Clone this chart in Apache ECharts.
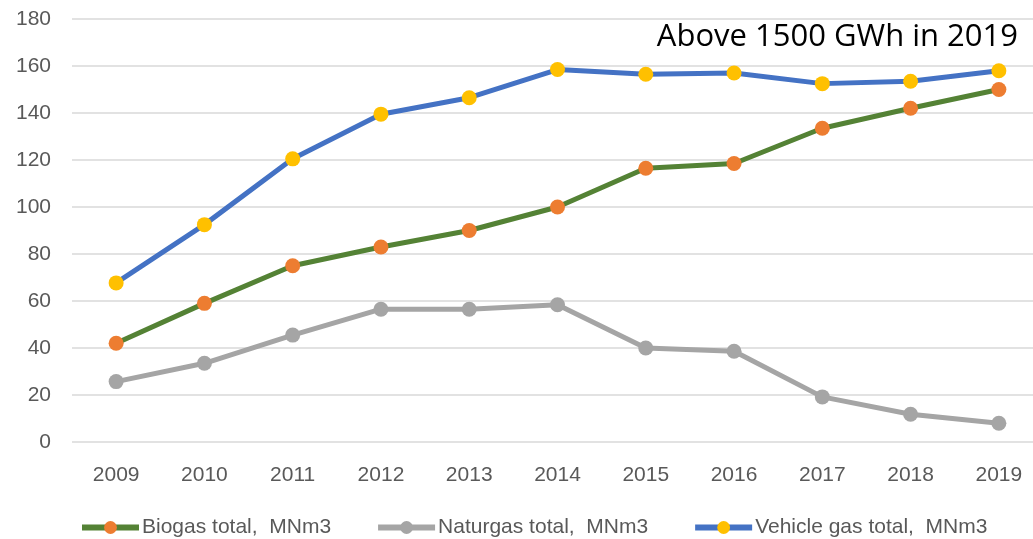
<!DOCTYPE html>
<html>
<head>
<meta charset="utf-8">
<script src="https://cdn.jsdelivr.net/npm/echarts@6/dist/echarts.min.js"></script>
<style>
  html, body { margin: 0; padding: 0; background: #fff; }
  #chart { width: 1033px; height: 539px; }
</style>
</head>
<body>
<div id="chart"></div>
<script>
// data
const years = ['2009', '2010', '2011', '2012', '2013', '2014', '2015', '2016', '2017', '2018', '2019']
const biogas = [42, 59, 75, 83, 90, 100, 116.5, 118.5, 133.5, 142, 150]
const naturgas = [25.7, 33.5, 45.5, 56.5, 56.5, 58.4, 40, 38.6, 19.2, 11.8, 8]
const vehicleGas = [67.7, 92.5, 120.5, 139.5, 146.5, 158.5, 156.5, 157, 152.5, 153.5, 158]

const font = 'Liberation Sans, Arial, sans-serif'

const myChart = echarts.init(document.getElementById('chart'))

const makeSeries = (name, data, lineColor, dotColor) => ({
  name: name,
  type: 'line',
  data: data,
  symbol: 'circle',
  symbolSize: 15,
  lineStyle: { color: lineColor, width: 5 },
  itemStyle: { color: dotColor },
  emphasis: { disabled: true },
  z: 2,
})

const option = {
  animation: false,
  title: {
    text: 'Above 1500 GWh in 2019',
    right: 10,
    top: 17,
    textStyle: { fontFamily: 'Open Sans, sans-serif', fontSize: 31, fontWeight: 'normal', color: '#000' },
  },
  // chart is cropped on the right in the reference, so the grid runs past the edge
  grid: { left: 72, right: -10, top: 19, bottom: 97, outerBoundsMode: 'none' },
  legend: {
    top: 512,
    left: 74,
    itemWidth: 57,
    itemHeight: 16,
    itemGap: 44,
    lineStyle: { width: 6 },
    textStyle: { fontFamily: font, fontSize: 21, color: '#595959', padding: [0, 0, 0, -2] },
    data: ['Biogas total,  MNm3', 'Naturgas total,  MNm3', 'Vehicle gas total,  MNm3'],
  },
  xAxis: {
    type: 'category',
    data: years,
    boundaryGap: true,
    axisLine: { show: false },
    axisTick: { show: false },
    axisLabel: { margin: 23, fontFamily: font, fontSize: 21, color: '#595959' },
  },
  yAxis: {
    type: 'value',
    min: 0,
    max: 180,
    interval: 20,
    axisLine: { show: false },
    axisTick: { show: false },
    axisLabel: { margin: 21, fontFamily: font, fontSize: 21, color: '#595959' },
    splitLine: { lineStyle: { color: '#d9d9d9', width: 1.5 } },
  },
  series: [
    makeSeries('Biogas total,  MNm3', biogas, '#548235', '#ED7D31'),
    makeSeries('Naturgas total,  MNm3', naturgas, '#A5A5A5', '#A5A5A5'),
    makeSeries('Vehicle gas total,  MNm3', vehicleGas, '#4472C4', '#FFC000'),
  ],
}

myChart.setOption(option)
</script>
</body>
</html>
